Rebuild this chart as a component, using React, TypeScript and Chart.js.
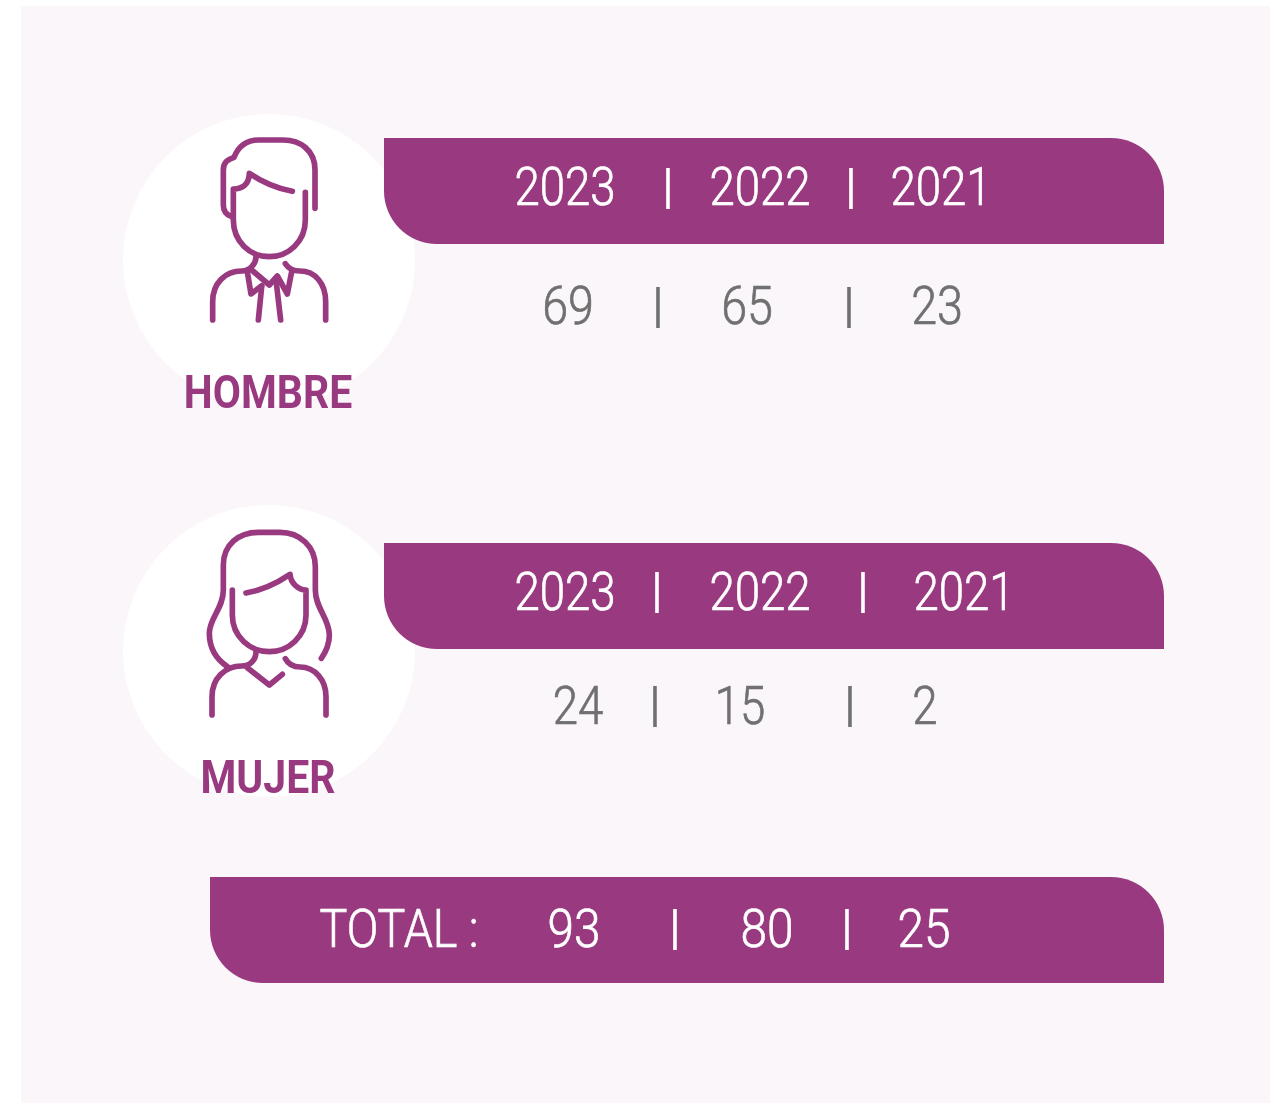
import React, { useEffect, useRef } from "react";
import { Chart, registerables } from "chart.js";

Chart.register(...registerables);

// ---- data ----
const years = ["2023", "2022", "2021"];
const hombre = [69, 65, 23];
const mujer = [24, 15, 2];
const total = [93, 80, 25];
const groupNames = ["HOMBRE", "MUJER"];
const totalLabel = "TOTAL :";
const separator = "|";

// ---- layout, in page pixels, used as the hidden axes' units ----
const W = 1270;
const H = 1103;
const PURPLE = "#993A81";
const GREY = "#707070";
const PANEL = "#FBF6FA";
const bandX = [[384, 1164], [384, 1164], [210, 1164]];
const bandY = [191, 596, 930];
const circles = [{ x: 269, y: 260 }, { x: 269, y: 651 }];

type Row = { texts: string[]; xs: number[]; y: number; color: string; font: string; sx: number; bold?: number };
const DIGIT = '300 53px Roboto';
const SEP = '400 44px "Liberation Sans"';
const rows: Row[] = [
  { texts: years, xs: [565, 760, 941], y: 205, color: "#fff", font: DIGIT, sx: 0.86, bold: 0.7 },
  { texts: [separator, separator], xs: [668, 851], y: 200, color: "#fff", font: SEP, sx: 1 },
  { texts: hombre.map(String), xs: [568, 747, 937], y: 324, color: GREY, font: DIGIT, sx: 0.88, bold: 0.7 },
  { texts: [separator, separator], xs: [658, 849], y: 319, color: GREY, font: SEP, sx: 1 },
  { texts: years, xs: [565, 760, 964], y: 610, color: "#fff", font: DIGIT, sx: 0.86, bold: 0.7 },
  { texts: [separator, separator], xs: [657, 863], y: 604, color: "#fff", font: SEP, sx: 1 },
  { texts: mujer.map(String), xs: [578, 740, 925], y: 724, color: GREY, font: DIGIT, sx: 0.86, bold: 0.7 },
  { texts: [separator, separator], xs: [655, 850], y: 718, color: GREY, font: SEP, sx: 1 },
  { texts: [totalLabel], xs: [399], y: 947, color: "#fff", font: DIGIT, sx: 0.88, bold: 0.7 },
  { texts: total.map(String), xs: [574, 767, 924], y: 947, color: "#fff", font: DIGIT, sx: 0.9, bold: 0.7 },
  { texts: [separator, separator], xs: [675, 847], y: 941, color: "#fff", font: SEP, sx: 1 },
  { texts: [groupNames[0]], xs: [268], y: 408, color: PURPLE, font: '700 46px Roboto', sx: 0.89 },
  { texts: [groupNames[1]], xs: [268], y: 793, color: PURPLE, font: '700 46px Roboto', sx: 0.89 },
];

// Line icons, drawn in a 3x local space whose origin is an anchor on the scales.
const manIcon = [
  "M435 265 L435 150 C435 90 390 60 340 60 L265 60 C230 60 205 80 192 112 C175 118 160 125 160 150 L160 255 C160 275 170 285 185 290",
  "M406 217 L406 300 C406 365 355 410 298 410 C240 410 190 365 190 300 L190 207 C215 207 237 195 238 160 C275 185 320 205 367 214",
  "M258 410 C258 430 240 453 215 453 C165 453 128 490 128 545 L128 600",
  "M346 431 C355 445 370 453 390 453 C435 453 467 490 467 545 L467 600",
  "M232 455 L243 522 L275 497",
  "M245 450 L298 495 L322 468 L352 522 L365 455",
  "M275 500 L265 600",
  "M318 480 L332 600",
];
const womanIcon = [
  "M172 455 C135 430 118 395 118 355 C118 310 160 280 160 225 L160 150 C160 90 205 52 265 52 L330 52 C390 52 436 95 436 155 L436 225 C436 280 478 310 478 360 C478 385 468 410 454 430",
  "M187 225 L187 300 C187 365 240 410 298 410 C355 410 408 365 408 300 L408 225 C385 225 362 205 360 178 C320 205 280 225 228 234",
  "M258 410 C258 435 240 453 215 453 C165 453 126 490 126 545 L126 600",
  "M346 431 C355 448 370 456 390 456 C435 456 468 495 468 545 L468 600",
  "M232 458 L298 510 L337 478",
];
const icons = [
  { paths: manIcon, x: 170, y: 120 },
  { paths: womanIcon, x: 170, y: 515 },
];

const infographic = {
  id: "infographic",
  beforeDraw(chart: any) {
    const { ctx, scales } = chart;
    const left = scales.x.getPixelForValue(21);
    const top = scales.y.getPixelForValue(6);
    ctx.save();
    ctx.fillStyle = PANEL;
    ctx.fillRect(left, top, scales.x.getPixelForValue(W) - left, scales.y.getPixelForValue(H) - top);
    ctx.restore();
  },
  afterDraw(chart: any) {
    const { ctx, scales } = chart;
    icons.forEach((icon) => {
      ctx.save();
      ctx.translate(scales.x.getPixelForValue(icon.x), scales.y.getPixelForValue(icon.y));
      ctx.scale(1 / 3, 1 / 3);
      ctx.strokeStyle = PURPLE;
      ctx.lineWidth = 17;
      ctx.lineCap = "round";
      ctx.lineJoin = "round";
      icon.paths.forEach((d) => ctx.stroke(new Path2D(d)));
      ctx.restore();
    });
    chart.data.datasets.forEach((ds: any, i: number) => {
      if (!ds.row) return;
      const meta = chart.getDatasetMeta(i);
      meta.data.forEach((pt: any, j: number) => {
        ctx.save();
        ctx.translate(pt.x, pt.y);
        ctx.scale(ds.row.sx, 1);
        ctx.font = ds.row.font;
        ctx.fillStyle = ds.row.color;
        ctx.textAlign = "center";
        ctx.textBaseline = "alphabetic";
        ctx.fillText(ds.row.texts[j], 0, 0);
        if (ds.row.bold) {
          ctx.strokeStyle = ds.row.color;
          ctx.lineWidth = ds.row.bold;
          ctx.strokeText(ds.row.texts[j], 0, 0);
        }
        ctx.restore();
      });
    });
  },
};

export default function App() {
  const ref = useRef<HTMLCanvasElement | null>(null);
  useEffect(() => {
    const chart = new Chart(ref.current as HTMLCanvasElement, {
      type: "bar",
      data: {
        datasets: [
          {
            type: "scatter",
            data: circles,
            pointRadius: 146,
            pointHoverRadius: 146,
            pointBackgroundColor: "#ffffff",
            pointBorderWidth: 0,
            order: 3,
            clip: false,
          },
          {
            type: "bar",
            indexAxis: "y",
            data: bandY.map((y, i) => ({ x: bandX[i], y })),
            backgroundColor: PURPLE,
            barThickness: 106,
            borderSkipped: false,
            inflateAmount: 0,
            borderRadius: { topLeft: 0, topRight: 53, bottomLeft: 53, bottomRight: 0 },
            order: 2,
          },
          ...rows.map((row) => ({
            type: "scatter",
            row,
            data: row.xs.map((x) => ({ x, y: row.y })),
            pointRadius: 0,
            order: 1,
          })),
        ] as any,
      },
      options: {
        animation: false,
        responsive: false,
        events: [],
        layout: { padding: 0, autoPadding: false },
        plugins: { legend: { display: false }, tooltip: { enabled: false } },
        scales: {
          x: { type: "linear", min: 0, max: W, display: false, offset: false },
          y: { type: "linear", min: 0, max: H, reverse: true, display: false, offset: false },
        },
      } as any,
      plugins: [infographic],
    });
    return () => chart.destroy();
  }, []);
  return (
    <div style={{ position: "absolute", left: 0, top: 0, width: W, height: H, background: "#fff" }}>
      <canvas ref={ref} width={W} height={H} style={{ display: "block" }} />
    </div>
  );
}
